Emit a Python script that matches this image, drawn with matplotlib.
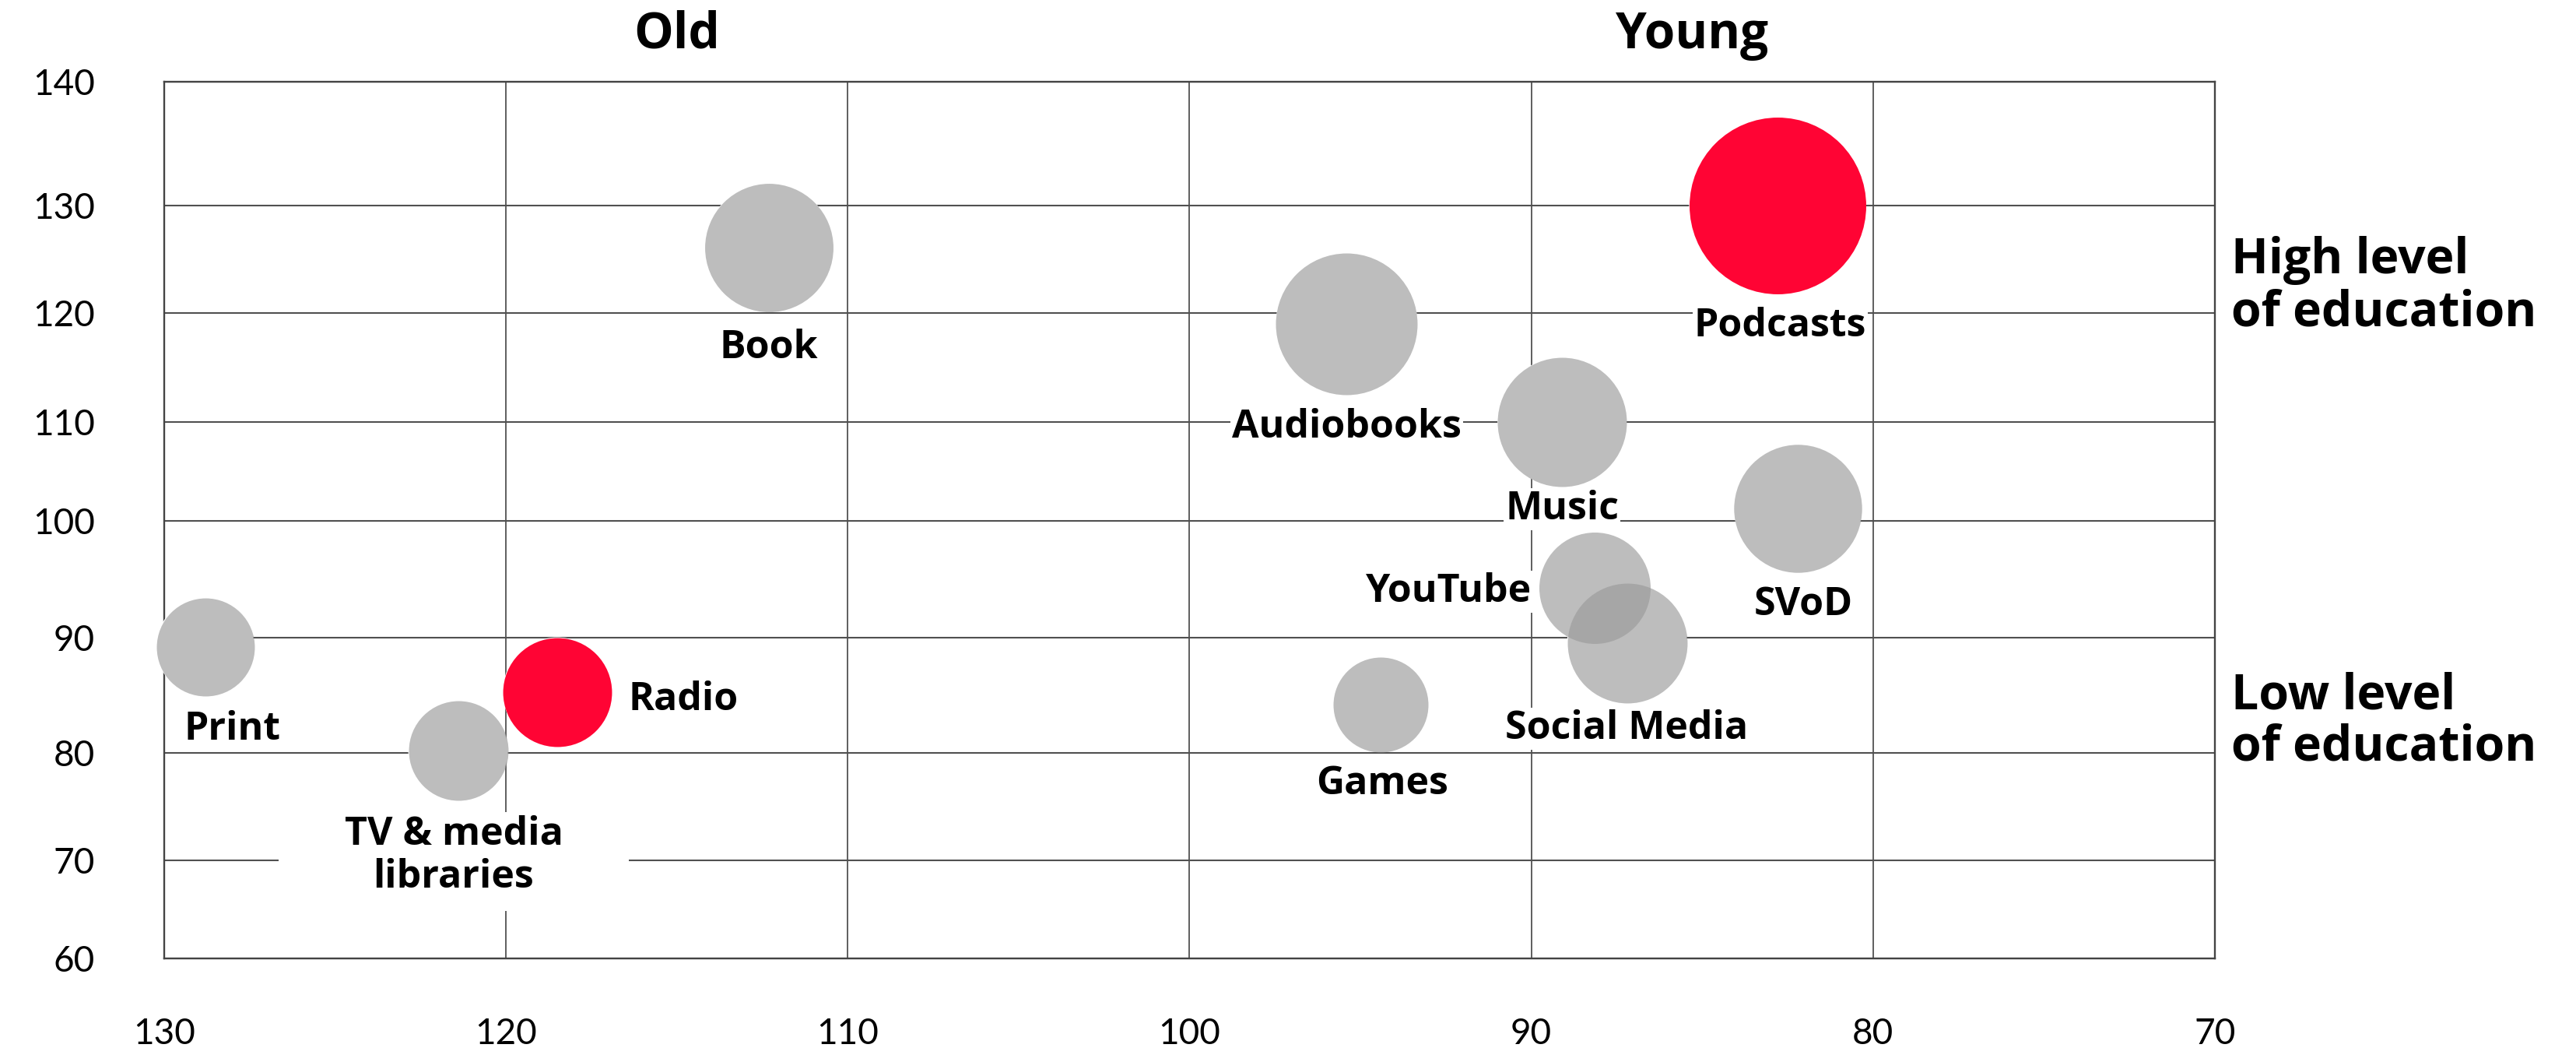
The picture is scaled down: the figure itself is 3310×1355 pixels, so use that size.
import numpy as np
import matplotlib
matplotlib.use("Agg")
import matplotlib.pyplot as plt
from matplotlib.patches import Rectangle
from matplotlib.transforms import blended_transform_factory, IdentityTransform

# media types placed by age index (x, reversed) and education index (y)
media = ["Print", "TV & media\nlibraries", "Radio", "Book", "Audiobooks", "Music",
         "Games", "YouTube", "Social Media", "SVoD", "Podcasts"]
age_index = [128.8, 121.4, 118.5, 112.3, 95.4, 89.1, 94.4, 88.15, 87.2, 82.2, 82.8]
education_index = [89.2, 80.2, 85.3, 126.1, 119.0, 110.0, 84.2, 94.3, 89.55, 101.3, 130.0]
bubble_value = [30.8, 31.8, 38.0, 52.8, 64.3, 53.5, 28.9, 39.7, 46.0, 52.5, 100.0]
highlight = ["Radio", "Podcasts"]

x_ticks = [130, 120, 110, 100, 90, 80, 70]
y_ticks = [60, 70, 80, 90, 100, 110, 120, 130, 140]

# the rows of the grid are not evenly spaced: axes fraction of each y tick
row_frac = [0.0, 0.1119, 0.2345, 0.3659, 0.4991, 0.6119, 0.7362, 0.8588, 1.0]

# label offsets from the bubble centre (points, to the last baseline)
# and horizontal alignment
label_layout = {
    "Print": (25, -86, "center"),
    "TV & media\nlibraries": (-4, -127, "center"),
    "Radio": (66, -17, "left"),
    "Book": (0, -102, "center"),
    "Audiobooks": (0, -105, "center"),
    "Music": (0, -90, "center"),
    "Games": (1.5, -83, "center"),
    "YouTube": (-58, -13, "right"),
    "Social Media": (0, -89, "center"),
    "SVoD": (5, -99, "center"),
    "Podcasts": (2.5, -121, "center"),
}

RED = "#ff0434"
GREY = "#9a9a9a"
MAX_DIAM_PT = 163.4
BOLD = ["Open Sans", "DejaVu Sans"]
LIGHT = ["Lato", "DejaVu Sans"]

fig = plt.figure(figsize=(33.1, 13.55), dpi=100)
ax = fig.add_axes([0.0637, 0.0915, 0.7961, 0.831])


def fwd(v):
    return np.interp(v, y_ticks, row_frac)


def inv(f):
    return np.interp(f, row_frac, y_ticks)


ax.set_yscale("function", functions=(fwd, inv))
ax.set_xlim(130, 70)
ax.set_ylim(60, 140)
ax.set_xticks(x_ticks)
ax.set_yticks(y_ticks)
ax.set_xticklabels([str(t) for t in x_ticks])
ax.set_yticklabels([str(t) for t in y_ticks])
ax.minorticks_off()

ax.set_axisbelow(True)
ax.grid(axis="y", color="#505050", lw=1.5)
ax.grid(axis="x", color="#333333", lw=1.1)
for side in ["left", "right", "top", "bottom"]:
    ax.spines[side].set_color("#444444")
    ax.spines[side].set_linewidth(1.7)

ax.tick_params(length=0, labelsize=33, colors="#000000")
ax.tick_params(axis="y", pad=64)
ax.tick_params(axis="x", pad=55)
for lbl in ax.get_xticklabels() + ax.get_yticklabels():
    lbl.set_family(LIGHT)
    lbl.set_fontweight("normal")

sizes = [v / 100 * MAX_DIAM_PT ** 2 for v in bubble_value]
colors = [RED if m in highlight else GREY for m in media]
alphas = [1.0 if m in highlight else 0.65 for m in media]

# white discs first so the grid does not show through the translucent bubbles
ax.scatter(age_index, education_index, s=sizes, color="white", lw=0,
           zorder=3, clip_on=False)
for x, y, s, c, a in zip(age_index, education_index, sizes, colors, alphas):
    ax.scatter([x], [y], s=[s], color=c, alpha=a, lw=0, zorder=4, clip_on=False)

texts = {}
for name, x, y in zip(media, age_index, education_index):
    dx, dy, ha = label_layout[name]
    texts[name] = ax.annotate(
        name, (x, y), xytext=(dx, dy), textcoords="offset points",
        ha=ha, va="baseline", fontsize=36, fontweight="bold", family=BOLD,
        linespacing=1.15, multialignment="center", zorder=6,
        bbox=dict(boxstyle="square,pad=0.04", fc="white", ec="none"))

# wider white patch behind the two-line TV label
fig.canvas.draw()
bb = texts["TV & media\nlibraries"].get_window_extent()
ax.add_patch(Rectangle((bb.x0 - 85, bb.y0 - 18), bb.width + 170, bb.height + 22,
                       transform=IdentityTransform(), fc="white", ec="none",
                       zorder=5))

# age headers above the plot
top = blended_transform_factory(ax.transData, fig.transFigure)
ax.text(115, 0.9545, "Old", transform=top, ha="center", va="baseline",
        fontsize=46, fontweight="bold", family=BOLD)
ax.text(85.3, 0.9545, "Young", transform=top, ha="center", va="baseline",
        fontsize=46, fontweight="bold", family=BOLD)

# education notes at the right
fig.text(0.8662, 0.6915, "High level\nof education", ha="left", va="baseline",
         fontsize=45, fontweight="bold", family=BOLD, linespacing=1.08)
fig.text(0.8662, 0.2790, "Low level\nof education", ha="left", va="baseline",
         fontsize=45, fontweight="bold", family=BOLD, linespacing=1.08)

fig.savefig("out.png", dpi=100, facecolor="white")
